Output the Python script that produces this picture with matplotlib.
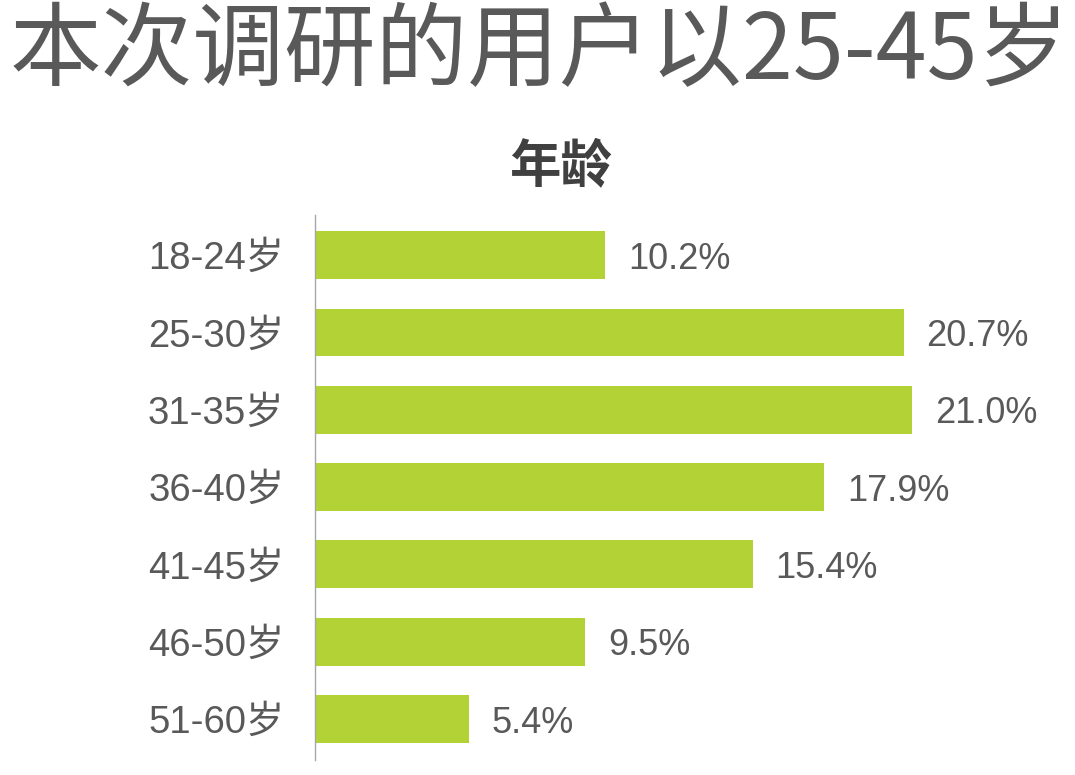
import matplotlib
matplotlib.use("Agg")
import matplotlib.pyplot as plt

plt.rcParams["font.family"] = ["Noto Sans CJK SC", "DejaVu Sans"]

# data
age_groups = ["18-24岁", "25-30岁", "31-35岁", "36-40岁", "41-45岁", "46-50岁", "51-60岁"]
shares = [10.2, 20.7, 21.0, 17.9, 15.4, 9.5, 5.4]

BAR_COLOR = "#b2d235"
TEXT_COLOR = "#595959"
LATIN = ["Liberation Sans", "Noto Sans CJK SC", "DejaVu Sans"]

W, H = 1075, 775
fig = plt.figure(figsize=(W / 100, H / 100), dpi=100)

fig.text(540 / W, 1 - 53 / H, "本次调研的用户以25-45岁", ha="center", va="center",
         fontsize=66, color=TEXT_COLOR)
fig.text(560 / W, 1 - 166 / H, "年龄", ha="center", va="center",
         fontsize=37, fontweight="bold", color="#404040")

left, right = 315 / W, 1026 / W
bottom, top = 1 - 760 / H, 1 - 215 / H
ax = fig.add_axes([left, bottom, right - left, top - bottom])

y = list(range(len(age_groups)))
ax.barh(y, shares, height=0.62, color=BAR_COLOR)
for yi, v in zip(y, shares):
    ax.text(v + 0.8, yi, f"{v:.1f}%", va="center_baseline", ha="left",
            fontsize=26, color=TEXT_COLOR, family=LATIN, clip_on=False)

ax.set_xlim(0, 25)
ax.set_ylim(6.53, -0.52)
ax.set_yticks(y)
ax.set_yticklabels(age_groups, fontsize=27.5, color=TEXT_COLOR, family=LATIN,
                   va="center_baseline")
ax.tick_params(axis="y", length=0, pad=22)
ax.set_xticks([])
for side in ("top", "right", "bottom"):
    ax.spines[side].set_visible(False)
ax.spines["left"].set_color("#a6a6a6")
ax.spines["left"].set_linewidth(1)

fig.savefig("out.png", dpi=100)
